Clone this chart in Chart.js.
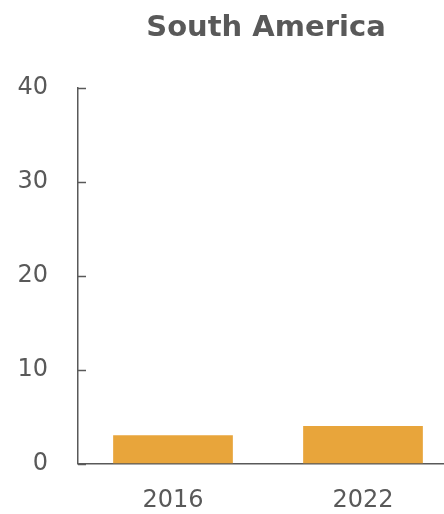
<!DOCTYPE html>
<html>
<head>
<meta charset="utf-8">
<script src="https://cdn.jsdelivr.net/npm/chart.js@4/dist/chart.umd.min.js"></script>
<style>
  html, body { margin: 0; padding: 0; background: #ffffff; overflow: hidden; }
  #wrap { width: 458px; height: 514px; }
</style>
</head>
<body>
<div id="wrap"><canvas id="chart" width="458" height="514"></canvas></div>
<script>
// Chart content
const titleText = 'South America';
const years = ['2016', '2022'];
const values = [3.0, 4.0];
const yTicks = [0, 10, 20, 30, 40];

const inkGray = '#595959';
const barColor = '#E8A53B';
const fontFamily = '"DejaVu Sans", Verdana, sans-serif';

// Title centred over the plot area, plus short inward tick marks on the value axis
const decorations = {
  id: 'decorations',
  afterDraw(chart) {
    const { ctx, chartArea } = chart;
    const y = chart.scales.y;
    ctx.save();
    ctx.strokeStyle = inkGray;
    ctx.lineWidth = 1.5;
    yTicks.forEach(v => {
      const py = Math.round(y.getPixelForValue(v)) + 0.5;
      ctx.beginPath();
      ctx.moveTo(chartArea.left, py);
      ctx.lineTo(chartArea.left + 8, py);
      ctx.stroke();
    });
    ctx.fillStyle = inkGray;
    ctx.font = 'bold 29px ' + fontFamily;
    ctx.textAlign = 'center';
    ctx.textBaseline = 'middle';
    ctx.fillText(titleText, (chartArea.left + chartArea.right) / 2 - 2, 28);
    ctx.restore();
  }
};

new Chart(document.getElementById('chart'), {
  type: 'bar',
  data: {
    labels: years,
    datasets: [{
      data: values,
      backgroundColor: barColor,
      borderWidth: 0,
      categoryPercentage: 1.0,
      barPercentage: 0.63
    }]
  },
  options: {
    responsive: false,
    animation: false,
    layout: { padding: { top: 88, left: 0, right: 0, bottom: 0 } },
    plugins: { legend: { display: false }, tooltip: { enabled: false }, title: { display: false } },
    scales: {
      y: {
        min: 0, max: 40,
        afterBuildTicks(scale) { scale.ticks = yTicks.map(v => ({ value: v })); },
        afterFit(scale) { scale.width = 78; },
        grid: { display: false, drawTicks: false },
        border: { display: true, color: inkGray, width: 1.5 },
        ticks: { color: inkGray, padding: 30, font: { family: fontFamily, size: 24 } }
      },
      x: {
        afterFit(scale) { scale.height = 50.5; },
        grid: { display: false, drawTicks: false },
        border: { display: true, color: inkGray, width: 1.5 },
        ticks: { color: inkGray, padding: 23, font: { family: fontFamily, size: 24 } }
      }
    }
  },
  plugins: [decorations]
});
</script>
</body>
</html>
